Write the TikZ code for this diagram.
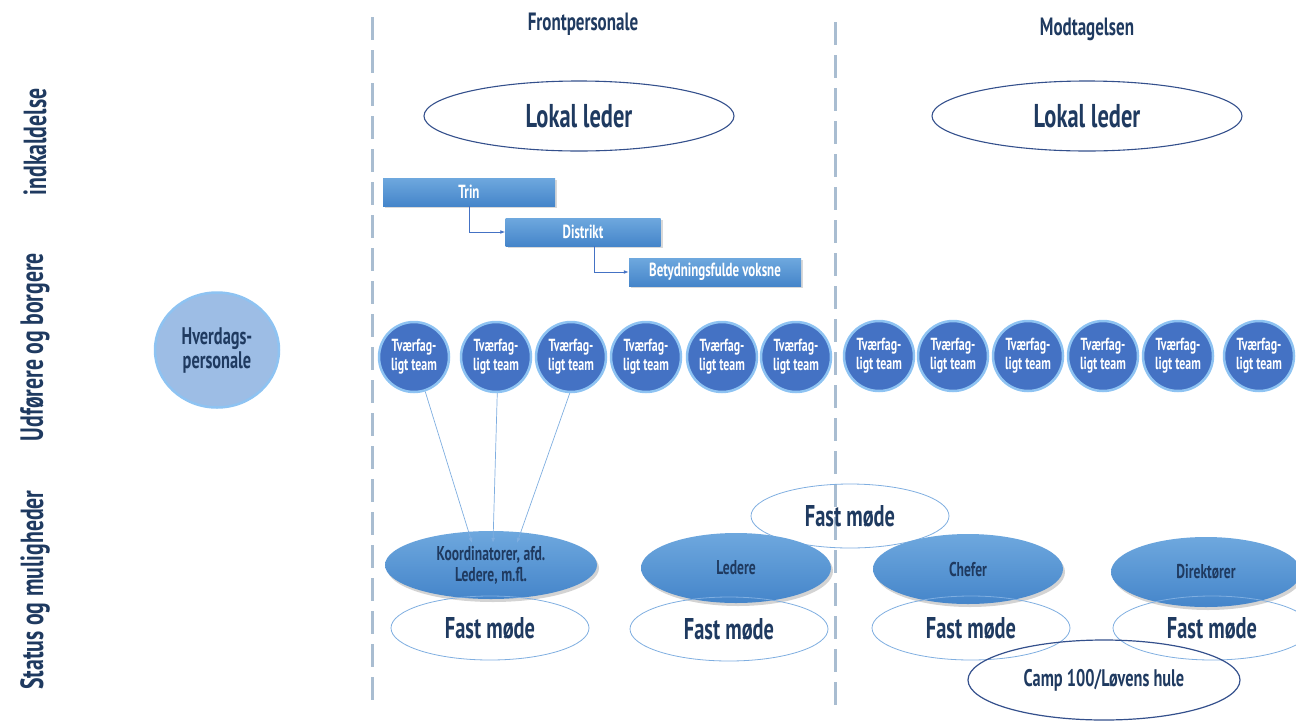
\documentclass[tikz,border=0pt]{standalone}
\usepackage{fontspec}
\setmainfont{PT Sans}[FakeStretch=0.68]
\usepackage{xcolor}
\definecolor{mgnavy}{HTML}{1F3A60}
\definecolor{mgteam}{HTML}{4472C4}
\definecolor{mgglow}{HTML}{8EC3F2}
\definecolor{mgtop}{HTML}{6EA8DE}
\definecolor{mgbot}{HTML}{4585CA}
\definecolor{mgline}{HTML}{7FAEE0}
\definecolor{mgdark}{HTML}{34508C}
\definecolor{mgdash}{HTML}{A9BDD1}
\definecolor{mgsoft}{HTML}{9DBDE5}
\usetikzlibrary{arrows.meta,positioning,shapes.geometric,shadows}

\begin{document}
\begin{tikzpicture}[
  x=1pt, y=-1pt,
  head/.style={text=mgnavy, font=\bfseries\fontsize{25}{27}\selectfont},
  band/.style={rotate=90, text=mgnavy, font=\bfseries\fontsize{32}{34}\selectfont},
  divider/.style={mgdash, line width=3pt, dash pattern=on 23pt off 10pt},
  lead/.style={ellipse, draw=mgdark, line width=1.1pt, minimum width=310pt, minimum height=70pt,
               inner sep=0pt, text=mgnavy, font=\bfseries\fontsize{33}{35}\selectfont},
  bar/.style={rectangle, top color=mgtop, bottom color=mgbot, draw=none, minimum height=28pt,
              inner sep=0pt, text=white, font=\bfseries\fontsize{19}{21}\selectfont,
              drop shadow={shadow xshift=2pt, shadow yshift=-2pt, opacity=0.3}},
  team/.style={circle, minimum size=70pt, inner sep=0pt, fill=mgteam, draw=mgglow, line width=2.5pt,
               align=center, text=white, font=\bfseries\fontsize{17.5}{19}\selectfont},
  role/.style={ellipse, top color=mgtop, bottom color=mgbot, draw=none, minimum width=190pt,
               minimum height=70pt, inner sep=0pt, align=center, text=mgnavy,
               font=\bfseries\fontsize{20}{21}\selectfont,
               drop shadow={shadow xshift=2pt, shadow yshift=-3pt, opacity=0.35}},
  meet/.style={ellipse, draw=mgline, line width=0.8pt, minimum width=198pt, minimum height=64pt,
               inner sep=0pt, text=mgnavy, font=\bfseries\fontsize{30}{32}\selectfont},
  a/.style={-{Latex[length=5pt]}, line width=0.8pt, mgteam},
  thin/.style={-{Latex[length=5pt,width=4pt]}, line width=0.7pt, mgline},
]
\useasboundingbox (0,0) rectangle (1296,721);

% ---- column dividers and headings
\draw[divider] (372,17) -- (372,705);
\draw[divider] (835,22) -- (835,705);
\node[head] (hf) at (583,24) {Frontpersonale};
\node[head] (hm) at (1087,29) {Modtagelsen};

% ---- row labels
\node[band] (r1) at (35,142) {indkaldelse};
\node[band] (r2) at (35,347) {Udførere og borgere};
\node[band] (r3) at (35,590) {Status og muligheder};

\node[ellipse, minimum width=124pt, minimum height=115pt, inner sep=0pt, fill=mgsoft,
      draw=mgglow, line width=2.5pt, align=center, text=mgnavy,
      font=\bfseries\fontsize{24}{24}\selectfont] (hv) at (217,350) {Hverdags-\\personale};

% ---- local leaders
\node[lead] (l1) at (579,116) {Lokal leder};
\node[lead] (l2) at (1087,116) {Lokal leder};

% ---- call-in steps
\node[bar, minimum width=172pt] (trin) at (469,192) {Trin};
\node[bar, minimum width=155pt] (dist) at (583,232) {Distrikt};
\node[bar, minimum width=172pt] (bet) at (715,272) {Betydningsfulde voksne};
\draw[a] (trin.south) |- (dist.west);
\draw[a] ([xshift=11pt]dist.south) |- (bet.west);

% ---- teams
\foreach \k/\x/\y in {1/414/357, 2/496/357, 3/571/357, 4/646/357, 5/722/357, 6/796/357,
                      7/879/356, 8/953/356, 9/1028/356, 10/1103/356, 11/1178/356, 12/1259/356} {
  \node[team] (t\k) at (\x,\y) {Tværfag-\\ligt team};
}

% ---- meetings behind the roles
\node[meet] (m0) at (850,516) {Fast møde};

% ---- roles
\node[role, minimum width=212pt, minimum height=68pt] (k) at (491,565) {Koordinatorer, afd.\\Ledere, m.fl.};
\node[role] (led) at (736,568) {Ledere};
\node[role] (chef) at (968,569) {Chefer};
\node[role] (dir) at (1206,572) {Direktører};

\draw[thin] (t1.288) -- ([xshift=-19pt,yshift=-12pt]k.north);
\draw[thin] (t2.272) -- ([xshift=2pt,yshift=-12pt]k.north);
\draw[thin] (t3.268) -- ([xshift=26pt,yshift=-12pt]k.north);

% ---- fixed meetings
\node[meet] (m1) at (490,628) {Fast møde};
\node[meet] (m2) at (729,629) {Fast møde};
\node[meet] (m3) at (971,628) {Fast møde};
\node[meet] (m4) at (1212,628) {Fast møde};

\node[ellipse, draw=mgdark, line width=1.2pt, minimum width=272pt, minimum height=80pt,
      inner sep=0pt, text=mgnavy, font=\bfseries\fontsize{24}{26}\selectfont] (camp) at (1104,680)
  {Camp 100/Løvens hule};
\end{tikzpicture}
\end{document}
